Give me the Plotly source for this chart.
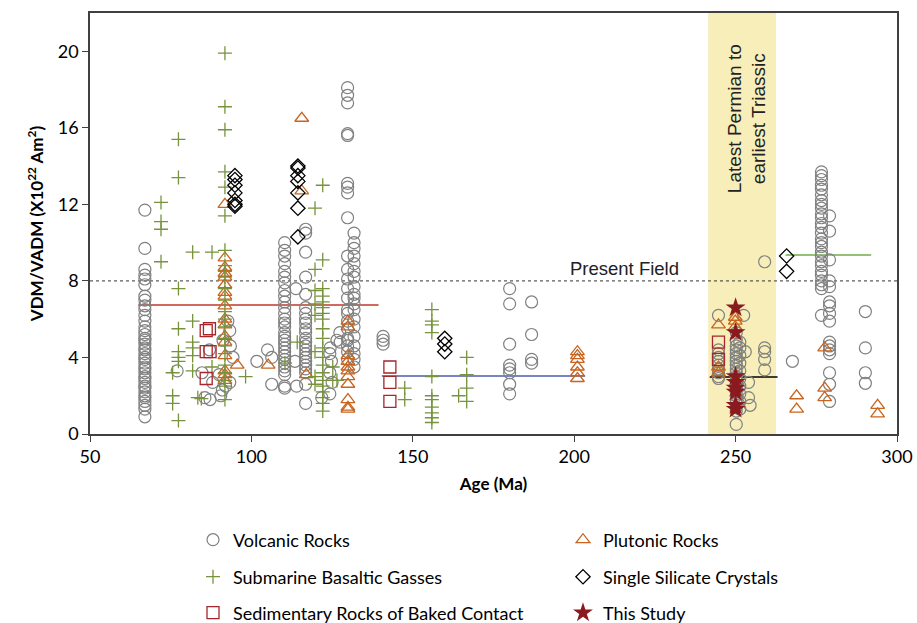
import plotly.graph_objects as go

# ---------------- DATA ----------------
# Volcanic Rocks (x = age Ma, y = VDM/VADM)
volc_x = ([67.0] * 39
          + [77.0, 84.7, 87.0, 85.6, 87.2, 88.0, 90.0, 91.0, 90.5, 93.3, 92.7, 93.3, 94.3, 93.5, 92.0, 91.2]
          + [101.7, 105.0, 106.3, 106.3]
          + [110.3] * 29
          + [114.0, 113.5, 113.8]
          + [116.8] * 23
          + [124.3, 124.8, 124.3, 125.0, 121.8, 124.3, 126.5, 127.4, 124.4, 127.5]
          + [129.8] * 23
          + [131.8] * 19
          + [140.8] * 3
          + [180.0] * 8
          + [186.8] * 4
          + [244.7] * 10
          + [250.2] * 21
          + [251.3] * 10
          + [252.5, 254.0, 254.0, 254.5, 253.0, 259.0, 259.0, 259.0, 259.0, 259.0, 267.6]
          + [276.6] * 27
          + [279.1] * 16
          + [290.2] * 4)
volc_y = ([11.7, 9.7, 8.6, 8.3, 8.1, 7.8, 7.2, 7.0, 6.7, 6.5, 6.2, 5.9, 5.6, 5.4, 5.2, 5.0, 4.9, 4.7, 4.5, 4.4,
           4.2, 4.0, 3.9, 3.7, 3.5, 3.4, 3.2, 3.0, 2.9, 2.7, 2.5, 2.4, 2.2, 2.0, 1.9, 1.7, 1.5, 1.3, 0.9]
          + [3.3, 3.2, 4.4, 1.9, 1.8, 2.7, 3.1, 2.3, 2.0, 5.4, 5.9, 2.7, 4.0, 4.6, 2.5, 4.9]
          + [3.8, 4.4, 4.0, 2.6]
          + [10.0, 9.6, 9.3, 8.9, 8.5, 8.2, 7.9, 7.5, 7.2, 6.9, 6.6, 6.3, 6.0, 5.8, 5.6, 5.3, 5.1, 4.9, 4.7, 4.5,
             4.3, 4.1, 3.9, 3.7, 3.5, 3.3, 3.1, 2.5, 2.4]
          + [2.5, 3.8, 7.6]
          + [10.7, 10.5, 9.5, 8.2, 7.3, 6.6, 6.3, 6.0, 5.8, 5.5, 5.3, 5.0, 4.8, 4.6, 4.4, 4.2, 4.0, 3.8, 3.6, 3.4,
             3.2, 2.6, 1.6]
          + [4.2, 3.8, 3.2, 2.7, 1.9, 2.1, 4.9, 5.3, 4.5, 4.8]
          + [18.1, 17.7, 17.3, 15.7, 15.6, 13.1, 12.9, 12.6, 11.3, 9.3, 8.6, 8.1, 7.6, 7.1, 6.5, 6.3, 5.9, 5.5,
             5.0, 4.9, 4.6, 4.3, 3.9]
          + [10.5, 10.0, 9.7, 9.3, 8.9, 8.5, 8.2, 7.7, 7.3, 7.1, 6.8, 6.5, 6.0, 5.6, 5.1, 4.6, 4.2, 3.9, 3.5]
          + [5.1, 4.9, 4.7]
          + [7.6, 6.8, 4.7, 3.6, 3.4, 3.2, 2.6, 2.1]
          + [6.9, 5.2, 3.9, 3.7]
          + [6.2, 4.4, 4.2, 4.0, 3.8, 3.6, 3.4, 3.2, 3.0, 2.9]
          + [5.3, 4.9, 4.6, 4.4, 4.2, 4.0, 3.8, 3.6, 3.4, 3.2, 3.0, 2.8, 2.6, 2.4, 2.2, 2.0, 1.8, 1.6, 1.4, 1.2, 0.5]
          + [4.8, 4.5, 4.1, 3.7, 3.3, 2.9, 2.5, 2.1, 1.7, 1.3]
          + [6.2, 2.7, 1.9, 1.5, 4.3, 4.5, 4.3, 3.9, 3.35, 9.0, 3.8]
          + [13.7, 13.5, 13.3, 13.0, 12.8, 12.5, 12.2, 12.0, 11.8, 11.5, 11.3, 11.0, 10.8, 10.5, 10.2, 10.0, 9.8,
             9.5, 9.3, 9.0, 8.8, 8.5, 8.3, 8.0, 7.8, 7.6, 6.2]
          + [11.4, 10.6, 9.1, 8.0, 7.7, 6.9, 6.7, 6.3, 5.9, 4.8, 4.6, 4.4, 4.2, 3.2, 2.6, 1.7]
          + [6.4, 4.5, 3.2, 2.65])

# Plutonic Rocks
plut_x = ([91.8] * 17
          + [95.6, 105.2, 115.6, 115.6, 117.0]
          + [129.9] * 11
          + [201.0] * 6
          + [244.7, 249.9, 249.9, 249.9, 244.7, 244.7]
          + [268.9, 268.9, 277.6, 277.6, 277.6, 294.0, 294.0])
plut_y = ([12.0, 9.2, 8.7, 8.4, 8.2, 7.8, 7.4, 7.2, 6.7, 6.0, 5.7, 5.1, 4.8, 4.1, 3.3, 3.1, 2.8]
          + [3.6, 3.6, 16.5, 12.7, 3.1]
          + [5.9, 5.6, 4.1, 3.8, 3.5, 3.3, 3.0, 2.6, 1.8, 1.4, 1.3]
          + [4.3, 4.1, 3.9, 3.5, 3.2, 2.9]
          + [5.7, 6.1, 5.9, 5.6, 3.5, 3.2]
          + [2.0, 1.3, 4.5, 2.4, 1.9, 1.5, 1.05])

# Submarine Basaltic Gasses
gas_x = ([91.8, 91.8, 91.8, 77.4, 77.4, 91.8, 91.8, 91.8, 72.0, 72.0, 72.0, 72.0, 81.8, 87.8, 91.8, 77.4,
          81.8, 77.4, 81.8, 77.4, 81.8, 81.8, 77.4, 77.4, 75.6, 81.8, 87.8, 75.6, 75.6, 83.4, 84.5, 77.4,
          91.8, 98.2, 110.4, 114.2]
         + [91.8] * 15
         + [122.1] * 20
         + [119.7] * 8
         + [125.2, 125.2, 126.5]
         + [155.9] * 11
         + [147.5, 147.5, 166.7, 166.7, 166.7, 166.7, 164.2])
gas_y = ([19.9, 17.1, 15.9, 15.4, 13.4, 13.7, 12.9, 11.4, 12.1, 11.1, 10.7, 9.0, 9.5, 9.5, 9.6, 7.6,
          5.9, 5.5, 4.8, 4.3, 4.5, 4.1, 4.0, 3.8, 3.2, 3.3, 3.5, 2.0, 1.6, 1.9, 1.85, 0.7,
          1.8, 3.0, 3.7, 4.8]
         + [8.8, 8.5, 8.2, 7.6, 7.0, 6.4, 6.0, 5.6, 5.0, 4.6, 4.2, 3.6, 3.2, 2.8, 2.5]
         + [13.0, 9.1, 7.6, 7.2, 6.9, 6.6, 6.3, 6.0, 5.5, 5.0, 4.5, 4.0, 3.6, 3.2, 2.8, 2.5, 2.2, 1.9, 1.6, 1.2]
         + [11.8, 8.6, 7.5, 6.8, 6.2, 4.3, 3.0, 2.6]
         + [3.5, 2.8, 2.8]
         + [6.5, 5.9, 5.7, 5.3, 3.0, 2.0, 1.8, 1.4, 1.1, 0.85, 0.6]
         + [2.4, 1.8, 4.0, 3.1, 2.4, 1.7, 2.0])

# Single Silicate Crystals
xtal_x = [94.9] * 7 + [114.4] * 7 + [159.9] * 3 + [265.8] * 2
xtal_y = ([13.5, 13.3, 13.0, 12.6, 12.2, 12.0, 11.9]
          + [14.0, 13.9, 13.5, 13.2, 12.6, 11.8, 10.3]
          + [5.0, 4.7, 4.3]
          + [9.3, 8.5])

# Sedimentary Rocks of Baked Contact
sed_x = [86.0, 87.0, 86.0, 87.2, 86.0, 142.9, 142.9, 142.9, 244.7, 244.7]
sed_y = [5.4, 5.5, 4.3, 4.3, 2.9, 3.5, 2.7, 1.7, 4.8, 3.9]

# This Study
study_x = [250.0] * 8
study_y = [6.6, 5.3, 3.0, 2.7, 2.4, 2.2, 1.5, 1.3]

# Mean lines (start age, end age, value)
mean_x0 = [65.0, 140.4, 242.0, 265.5]
mean_x1 = [139.4, 203.4, 263.0, 292.0]
mean_val = [6.74, 3.03, 2.98, 9.35]
mean_colors = ["#C0392B", "#4C5BB5", "#000000", "#70AD47"]

present_field = 8.0
band_x0, band_x1 = 241.5, 262.5

# ---------------- FIGURE ----------------
fig = go.Figure()

# mean lines
for x0, x1, v, c in zip(mean_x0, mean_x1, mean_val, mean_colors):
    fig.add_trace(go.Scatter(x=[x0, x1], y=[v, v], mode="lines",
                             line=dict(color=c, width=1.5), showlegend=False, hoverinfo="skip"))

series = [
    ("Volcanic Rocks", volc_x, volc_y, dict(symbol="circle-open", size=12, color="#808080", line=dict(width=1.2)), "legend"),
    ("Plutonic Rocks", plut_x, plut_y, dict(symbol="triangle-up-open", size=12, color="#C8641E", line=dict(width=1.3)), "legend2"),
    ("Submarine Basaltic Gasses", gas_x, gas_y, dict(symbol="cross-thin-open", size=10, color="#77933C", line=dict(width=1.3)), "legend3"),
    ("Single Silicate Crystals", xtal_x, xtal_y, dict(symbol="diamond-open", size=11, color="#000000", line=dict(width=1.3)), "legend4"),
    ("Sedimentary Rocks of Baked Contact", sed_x, sed_y, dict(symbol="square-open", size=12, color="#A5262B", line=dict(width=1.3)), "legend5"),
    ("This Study", study_x, study_y, dict(symbol="star", size=15, color="#8B1A1E", line=dict(width=0)), "legend6"),
]
for name, xs, ys, mk, lg in series:
    fig.add_trace(go.Scatter(x=xs, y=ys, mode="markers", name=name, marker=mk, legend=lg))

# band + present field line
fig.add_shape(type="rect", xref="x", yref="paper", x0=band_x0, x1=band_x1, y0=0, y1=1,
              fillcolor="#F7EEB9", line=dict(width=0), layer="below")
fig.add_shape(type="line", xref="paper", yref="y", x0=0, x1=1, y0=present_field, y1=present_field,
              line=dict(color="#333333", width=1, dash="dot"), layer="below")

fig.add_annotation(x=215.5, y=present_field, yanchor="bottom", yshift=0, text="Present Field",
                   showarrow=False, font=dict(family="Liberation Sans, Arial", size=18.5, color="#222222"))
fig.add_annotation(x=253.5, y=16.5, text="Latest Permian to<br>earliest Triassic", textangle=-90,
                   showarrow=False, font=dict(family="Liberation Sans, Arial", size=19, color="#222222"))

# individual legends, one per entry (2 columns x 3 rows)
plot_l, plot_w, plot_b, plot_h = 90, 807, 434, 421
col_px = [193, 563]
row_px = [540, 577, 613]
positions = [(0, 0), (1, 0), (0, 1), (1, 1), (0, 2), (1, 2)]
legend_layout = {}
for i, (c, r) in enumerate(positions):
    key = "legend" if i == 0 else f"legend{i + 1}"
    legend_layout[key] = dict(
        x=(col_px[c] - plot_l) / plot_w, y=-(row_px[r] - plot_b) / plot_h,
        xanchor="left", yanchor="middle", orientation="v",
        font=dict(family="Lato", size=18, color="#000000"),
        bgcolor="rgba(0,0,0,0)", itemclick=False, itemdoubleclick=False)

fig.update_layout(
    width=917, height=623,
    margin=dict(l=plot_l, r=20, t=13, b=189, autoexpand=False),
    paper_bgcolor="white", plot_bgcolor="white",
    font=dict(family="Lato", color="#000000"),
    xaxis=dict(range=[50, 300], tickvals=[50, 100, 150, 200, 250, 300], showgrid=False, zeroline=False,
               showline=True, linecolor="#404040", linewidth=1.5, mirror=True,
               ticks="outside", ticklen=6, tickcolor="#404040",
               tickfont=dict(family="Lato", size=18, color="#000000"),
               title=dict(text="<b>Age (Ma)</b>", font=dict(family="Lato", size=17), standoff=12)),
    yaxis=dict(range=[0, 22], tickvals=[0, 4, 8, 12, 16, 20], showgrid=False, zeroline=False,
               showline=True, linecolor="#404040", linewidth=1.5, mirror=True,
               ticks="outside", ticklen=6, tickcolor="#404040",
               tickfont=dict(family="Lato", size=18, color="#000000"),
               title=dict(text="<b>VDM/VADM (X10<sup>22</sup> Am<sup>2</sup>)</b>",
                          font=dict(family="Lato", size=17), standoff=10)),
    **legend_layout,
)

fig.write_html("out.html")
